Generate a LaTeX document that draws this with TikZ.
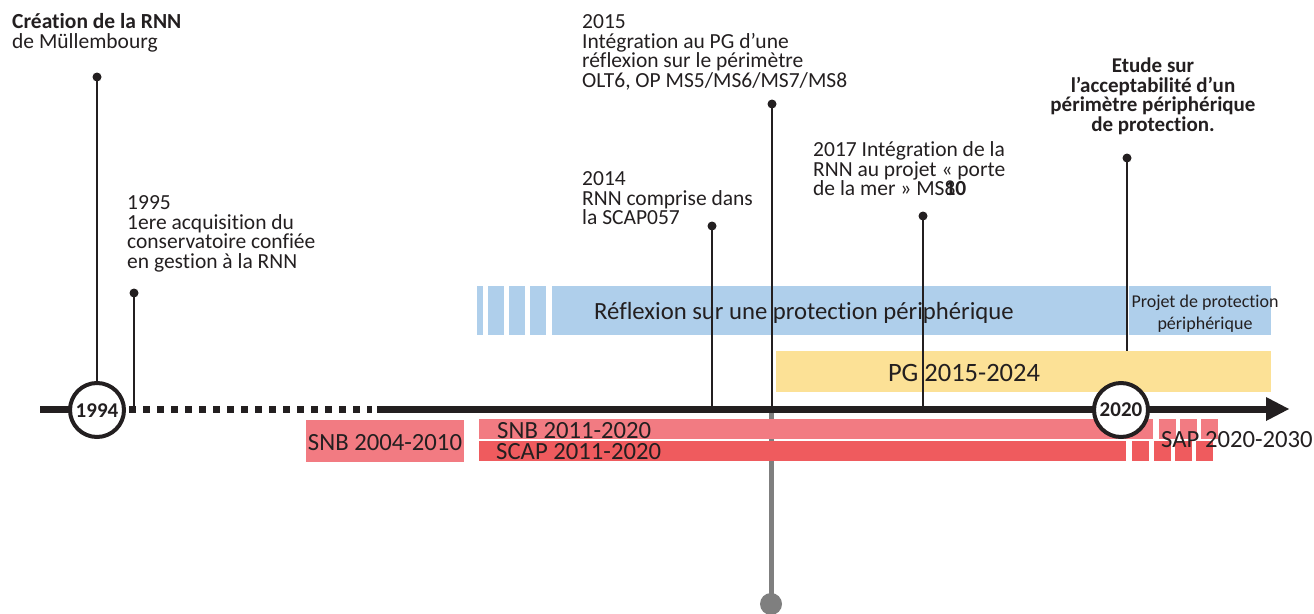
\documentclass[tikz,border=0pt]{standalone}
\usepackage{fontspec}
\setmainfont{Carlito}[Ligatures={NoCommon,NoRare}]
\definecolor{ink}{HTML}{231F20}
\definecolor{barblue}{HTML}{AFCFEB}
\definecolor{baryellow}{HTML}{FCE196}
\definecolor{redlight}{HTML}{F27B82}
\definecolor{reddark}{HTML}{EF5B5E}
\definecolor{stemgrey}{HTML}{7F7F7F}
\newcommand\fstrut{\rule{0pt}{16pt}}
\begin{document}
\begin{tikzpicture}[x=1pt,y=-1pt,
  txt/.style={font=\fontsize{21.5}{19.8}\selectfont, text=ink, inner sep=0pt, align=left, anchor=north west},
  mid/.style={font=\fontsize{24.7}{26}\selectfont, text=ink, inner sep=0pt},
  dot/.style={circle, fill=ink, inner sep=0pt, minimum size=9pt},
  stem/.style={draw=ink, line width=2.5pt},
  yearcirc/.style={circle, draw=ink, fill=white, line width=4pt, minimum size=54pt, inner sep=0pt},
  yeartxt/.style={font=\fontsize{21}{21}\selectfont\bfseries, text=ink, inner sep=0pt, anchor=base}
]
\useasboundingbox (0,0) rectangle (1314,613);

% grey stem below the axis
\node[circle, fill=stemgrey, inner sep=0pt, minimum size=22pt] (gdot) at (771,604) {};
\coordinate (gtop) at (771,409);
\draw[stemgrey, line width=5pt] (gtop) -- (gdot.center);

% blue bars
\fill[barblue] (477,286) rectangle (483,335);
\fill[barblue] (488,286) rectangle (504,335);
\fill[barblue] (509,286) rectangle (525,335);
\fill[barblue] (530,286) rectangle (546,335);
\fill[barblue] (552,286) rectangle (1126,335);
\fill[barblue] (1129,286) rectangle (1271,335);
% yellow bar
\fill[baryellow] (776,351) rectangle (1271,392);
% red bars
\fill[redlight] (306,420) rectangle (464,462);
\fill[redlight] (479,419) rectangle (1153,439);
\foreach \a/\b in {1159/1176,1180/1197,1201/1218}
  \fill[redlight] (\a,419) rectangle (\b,439);
\fill[reddark] (479,441) rectangle (1126,461);
\foreach \a/\b in {1132/1149,1154/1171,1175/1192,1196/1213}
  \fill[reddark] (\a,441) rectangle (\b,461);

% axis
\coordinate (ax0) at (40,409);
\coordinate (axd0) at (129,409);
\coordinate (axd1) at (372,409);
\coordinate (axs) at (377,409);
\coordinate (axe) at (1268,409);
\draw[ink, line width=7pt] (ax0) -- (80,409);
\draw[ink, line width=7pt, dash pattern=on 7pt off 7pt] (axd0) -- (axd1);
\draw[ink, line width=7pt] (axs) -- (axe);
\fill[ink] (1266,397) -- (1289,409) -- (1266,421) -- cycle;

% circles
\node[yearcirc] (c1994) at (97,410) {};
\node[yeartxt] at (97,417) {1994};
\node[yearcirc] (c2020) at (1121,410) {};
\node[yeartxt] at (1121,416) {2020};

% dots and stems
\node[dot] (d1994) at (97,77) {};
\draw[stem] (d1994.center) -- (c1994.north);
\node[dot] (d1995) at (134,293) {};
\coordinate (a1995) at (134,406);
\draw[stem] (d1995.center) -- (a1995);
\node[dot] (d2014) at (712,226) {};
\coordinate (a2014) at (712,406);
\draw[stem] (d2014.center) -- (a2014);
\node[dot] (d2015) at (772,104) {};
\coordinate (a2015) at (772,406);
\draw[stem] (d2015.center) -- (a2015);
\node[dot] (d2017) at (923,216) {};
\coordinate (a2017) at (923,406);
\draw[stem] (d2017.center) -- (a2017);
\node[dot] (d2020) at (1127,158) {};
\coordinate (a2020) at (1127,351);
\draw[stem] (d2020.center) -- (a2020);

% event texts
\node[txt] (t1994) at (12,12) {\fstrut\textbf{Création de la RNN}\\de Müllembourg};
\node[txt] (t1995) at (127,193) {\fstrut 1995\\1ere acquisition du\\conservatoire confiée\\en gestion à la RNN};
\node[txt] (t2015) at (582,12) {\fstrut 2015\\Intégration au PG d’une\\réflexion sur le périmètre\\OLT6, OP MS5/MS6/MS7/MS8};
\node[txt] (t2014) at (582,169) {\fstrut 2014\\RNN comprise dans\\la SCAP057};
\node[txt] (t2017) at (813,140) {\fstrut 2017 Intégration de la\\RNN au projet « porte\\de la mer » MS\rlap{8}\textbf{10}};
\node[txt, align=center, anchor=north, font=\fontsize{21}{19.8}\selectfont\bfseries] (tetude) at (1153,56) {\fstrut Etude sur\\l’acceptabilité d’un\\périmètre périphérique\\de protection.};

% bar texts
\node[mid, anchor=base] (trefl) at (804,319) {Réflexion sur une protection périphérique};
\node[inner sep=0pt, text=ink, align=center, anchor=north, font=\fontsize{18}{22}\selectfont] (tproj) at (1205,291) {\rule{0pt}{16pt}Projet de protection\\périphérique};
\node[mid, anchor=base, font=\fontsize{26.5}{28}\selectfont] (tpg) at (964,381) {PG 2015-2024};
\node[mid, anchor=base] (tsnb1) at (385,450) {SNB 2004-2010};
\node[mid, anchor=base west] (tsnb2) at (497,438) {SNB 2011-2020};
\node[mid, anchor=base west] (tscap) at (496,459) {SCAP 2011-2020};
\node[mid, anchor=base west] (tsap) at (1161,447) {SAP 2020-2030};
\end{tikzpicture}
\end{document}
